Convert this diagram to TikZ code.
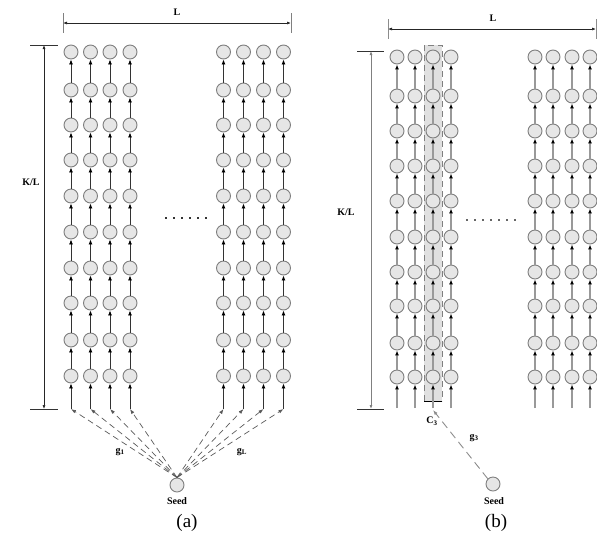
\documentclass[tikz,border=0pt]{standalone}
\usepackage{fontspec}
\setmainfont{Liberation Serif}
\usetikzlibrary{arrows.meta}
\definecolor{cfill}{HTML}{E6E6E6}
\definecolor{cedge}{HTML}{7F7F7F}
\tikzset{
  cell/.style={circle,draw=cedge,fill=cfill,line width=0.9pt,minimum size=14pt,inner sep=0pt},
  tipa/.style={-{Latex[length=5pt,width=4pt,color=black]}},
  linka/.style={tipa,draw=black!80,line width=0.8pt},
  linkb/.style={tipa,draw=black!40,line width=1.1pt},
  dima/.style={{Latex[length=4pt,width=3pt]}-{Latex[length=4pt,width=3pt]},draw=black!85,line width=0.7pt},
  dimb/.style={{Latex[length=4pt,width=3pt]}-{Latex[length=4pt,width=3pt]},draw=black!50,line width=0.9pt},
  ticka/.style={draw=black!50,line width=0.9pt},
  tickb/.style={draw=black!45,line width=1pt},
  seedarr/.style={-{Latex[length=5pt,width=3.5pt]},draw=black!65,line width=0.7pt,dash pattern=on 6pt off 4pt},
  lbl/.style={font=\bfseries\fontsize{10}{11}\selectfont,inner sep=0pt},
  panelcap/.style={font=\fontsize{19}{21}\selectfont,inner sep=0pt},
  dotrow/.style={draw=black!80,line width=1.3pt,dash pattern=on 2pt off 6pt}
}
\begin{document}
\begin{tikzpicture}[x=1pt,y=-1pt]
\useasboundingbox (0,0) rectangle (597,542);
% ---------------- panel (a) ----------------
\foreach \c/\x in {1/71,2/90.5,3/110,4/130,5/223.5,6/243.5,7/263.5,8/283.5}{
  \foreach \r/\y in {0/52,1/90,2/125,3/160,4/196,5/232,6/268,7/303,8/340,9/376}{
    \node[cell] (a-\c-\r) at (\x,\y) {};
  }
  \coordinate (ab-\c) at (\x,409);
  \draw[linka] (ab-\c) -- (a-\c-9);
  \foreach \r [evaluate=\r as \rr using int(\r+1)] in {0,...,8}{
    \draw[linka] (a-\c-\rr) -- (a-\c-\r);
  }
}
\node[cell] (seedA) at (177,485) {};
\node[lbl] (seedAl) at (177,501) {Seed};
\foreach \c in {1,...,8}{
  \draw[seedarr] (seedA.north) -- (ab-\c);
}
\node[lbl] (g1) at (120,452) {g\textsubscript{1}};
\node[lbl] (gL) at (242,452) {g\textsubscript{L}};
\draw[dotrow] (165,218) -- (207,218);
% L dimension (a)
\coordinate (La1) at (63,23); \coordinate (La2) at (291,23);
\draw[ticka] (63,13) -- (63,33);
\draw[ticka] (291,13) -- (291,33);
\draw[dima] (La1) -- (La2);
\node[lbl] (LaL) at (177,12) {L};
% K/L dimension (a)
\coordinate (Ka1) at (44,45); \coordinate (Ka2) at (44,409);
\draw[ticka,draw=black!80] (30,45) -- (58,45);
\draw[ticka,draw=black!80] (30,409) -- (58,409);
\draw[dima] (Ka1) -- (Ka2);
\node[lbl] (KaL) at (31,182) {K/L};
\node[panelcap] (capa) at (187,523) {(a)};
% ---------------- panel (b) ----------------
\fill[black!12] (424,45) rectangle (442,401);
\draw[draw=black!50,line width=1pt,dash pattern=on 6pt off 4pt] (424,401) -- (424,45) -- (442,45) -- (442,401);
\draw[black,line width=0.9pt] (424,401) -- (442,401);
\foreach \c/\x in {1/397,2/415,3/433,4/451,5/535,6/553,7/572,8/590}{
  \foreach \r/\y in {0/57,1/96,2/131,3/166,4/201,5/237,6/272,7/306,8/343,9/377}{
    \node[cell] (b-\c-\r) at (\x,\y) {};
  }
  \coordinate (bb-\c) at (\x,408);
  \draw[linkb] (bb-\c) -- (b-\c-9);
  \foreach \r [evaluate=\r as \rr using int(\r+1)] in {0,...,8}{
    \draw[linkb] (b-\c-\rr) -- (b-\c-\r);
  }
}
\node[cell] (seedB) at (493,484) {};
\node[lbl] (seedBl) at (494,501) {Seed};
\coordinate (c3t) at (433,410);
\draw[seedarr,draw=black!45,line width=0.9pt,dash pattern=on 8pt off 5pt] (seedB.north west) -- (c3t);
\node[lbl] (C3) at (432,421) {C\textsubscript{3}};
\node[lbl] (g3) at (474,438) {g\textsubscript{3}};
\draw[dotrow,draw=black!60] (466,220) -- (516,220);
% L dimension (b)
\coordinate (Lb1) at (388,29); \coordinate (Lb2) at (596,29);
\draw[tickb] (388,19) -- (388,39);
\draw[tickb] (596,19) -- (596,39);
\draw[dima] (Lb1) -- (Lb2);
\node[lbl] (LbL) at (493,18) {L};
% K/L dimension (b)
\coordinate (Kb1) at (371,51); \coordinate (Kb2) at (371,409);
\draw[tickb,draw=black!80] (357,51) -- (384,51);
\draw[tickb,draw=black!80] (357,409) -- (384,409);
\draw[dimb] (Kb1) -- (Kb2);
\node[lbl] (KbL) at (346,212) {K/L};
\node[panelcap] (capb) at (496,523) {(b)};
\end{tikzpicture}
\end{document}
